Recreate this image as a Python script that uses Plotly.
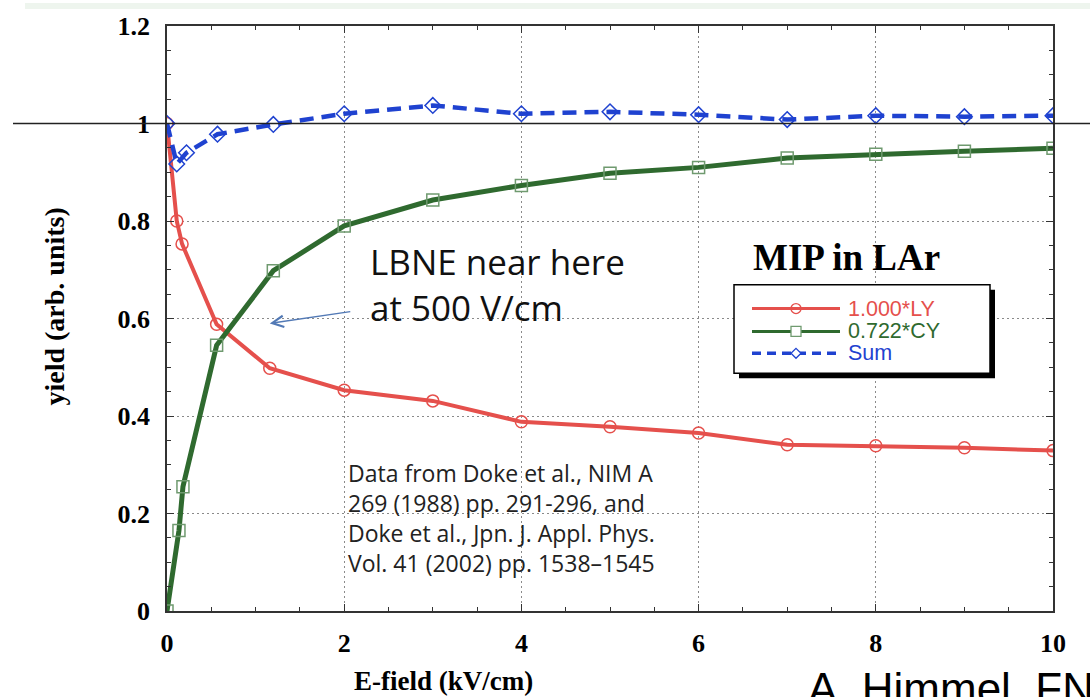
import plotly.graph_objects as go

# Electric field (kV/cm) and relative yields for a MIP in liquid argon
field_ly = [0, 0.11, 0.17, 0.56, 1.16, 2, 3, 4, 5, 6, 7, 8, 9, 10]
light_yield = [1.0, 0.80, 0.753, 0.588, 0.498, 0.453, 0.431, 0.388, 0.378, 0.365, 0.341, 0.339, 0.335, 0.329]

field_cy = [0, 0.135, 0.18, 0.56, 1.2, 2, 3, 4, 5, 6, 7, 8, 9, 10]
charge_yield = [0.0, 0.165, 0.255, 0.545, 0.698, 0.79, 0.843, 0.873, 0.898, 0.910, 0.929, 0.937, 0.943, 0.949]

field_sum = [0, 0.11, 0.22, 0.57, 1.2, 2, 3, 4, 5, 6, 7, 8, 9, 10]
yield_sum = [1.0, 0.917, 0.94, 0.978, 0.998, 1.02, 1.037, 1.02, 1.024, 1.018, 1.008, 1.016, 1.014, 1.016]

x_ticks = [0, 2, 4, 6, 8, 10]
y_ticks = [0, 0.2, 0.4, 0.6, 0.8, 1.0, 1.2]

series = [
    dict(name="1.000*LY", x=field_ly, y=light_yield, color="#e5504c", mcolor="#e5504c",
         width=4, dash="solid", symbol="circle-open"),
    dict(name="0.722*CY", x=field_cy, y=charge_yield, color="#2f6a2f", mcolor="#6f9a6f",
         width=5, dash="solid", symbol="square-open"),
    dict(name="Sum", x=field_sum, y=yield_sum, color="#1f42d0", mcolor="#1f42d0",
         width=4.5, dash="14px,8px", symbol="diamond-open"),
]

W, H = 1090, 697
L, R, T, B = 167, 37, 23, 86
PW, PH = W - L - R, H - T - B


def px(xp):
    return (xp - L) / PW


def py(yp):
    return (H - B - yp) / PH


fig = go.Figure()
for s in series:
    fig.add_trace(go.Scatter(
        x=s["x"], y=s["y"], name=s["name"], mode="lines+markers",
        line=dict(color=s["color"], width=s["width"], dash=s["dash"]),
        marker=dict(symbol=s["symbol"], size=12, color=s["mcolor"],
                    line=dict(width=1.5, color=s["mcolor"])),
        showlegend=False,
    ))

shapes = []
# thin strip along the top edge of the slide
shapes.append(dict(type="rect", xref="paper", yref="paper", x0=px(25), x1=px(W), y0=py(0), y1=py(6),
                   fillcolor="#eef5ee", line=dict(width=0), layer="below"))
# slide rule at unit yield
shapes.append(dict(type="line", xref="paper", yref="paper", x0=px(13), x1=px(W), y0=1.0 / 1.2, y1=1.0 / 1.2,
                   line=dict(color="#222222", width=1.3), layer="above"))

# legend box with drop shadow
bx0, by0, bx1, by1 = 734, 283, 990, 372
shapes.append(dict(type="rect", xref="paper", yref="paper", x0=px(bx0 + 5), x1=px(bx1 + 5),
                   y0=py(by0 + 5), y1=py(by1 + 5), fillcolor="black", line=dict(width=0), layer="above"))
shapes.append(dict(type="rect", xref="paper", yref="paper", x0=px(bx0), x1=px(bx1),
                   y0=py(by0), y1=py(by1), fillcolor="white", line=dict(color="black", width=1.5), layer="above"))

annotations = []
rows = [307, 330, 352]
lx0, lx1, lxm = 752, 840, 796
for s, ry in zip(series, rows):
    shapes.append(dict(type="line", xref="paper", yref="paper", x0=px(lx0), x1=px(lx1), y0=py(ry), y1=py(ry),
                       line=dict(color=s["color"], width=3 if s["dash"] == "solid" else 3.5,
                                 dash="solid" if s["dash"] == "solid" else "9px,6px"), layer="above"))
    r = 5
    if s["symbol"].startswith("circle"):
        shapes.append(dict(type="circle", xref="paper", yref="paper", x0=px(lxm - r), x1=px(lxm + r),
                           y0=py(ry - r), y1=py(ry + r), fillcolor="rgba(0,0,0,0)",
                           line=dict(color=s["mcolor"], width=1.3), layer="above"))
    elif s["symbol"].startswith("square"):
        shapes.append(dict(type="rect", xref="paper", yref="paper", x0=px(lxm - r), x1=px(lxm + r),
                           y0=py(ry - r), y1=py(ry + r), fillcolor="white",
                           line=dict(color=s["mcolor"], width=1.3), layer="above"))
    else:
        path = (f"M{px(lxm)},{py(ry - r)} L{px(lxm + r)},{py(ry)} L{px(lxm)},{py(ry + r)} "
                f"L{px(lxm - r)},{py(ry)} Z")
        shapes.append(dict(type="path", xref="paper", yref="paper", path=path, fillcolor="white",
                           line=dict(color=s["mcolor"], width=1.3), layer="above"))
    annotations.append(dict(xref="paper", yref="paper", x=px(846), y=py(ry), xanchor="left", yanchor="middle",
                            text=s["name"], showarrow=False,
                            font=dict(family="Liberation Sans, Arial", size=21.5, color=s["color"])))

serif = "Liberation Serif, Times New Roman, serif"
sans = "Open Sans, Lato, sans-serif"

annotations += [
    dict(xref="paper", yref="paper", x=px(846), y=py(256), xanchor="center", yanchor="middle",
         text="<b>MIP in LAr</b>", showarrow=False, font=dict(family=serif, size=37, color="black")),
    dict(xref="paper", yref="paper", x=px(368), y=py(234), xanchor="left", yanchor="top",
         text="LBNE near here<br>at 500 V/cm", showarrow=False, align="left",
         font=dict(family=sans, size=35, color="#111111")),
    dict(xref="paper", yref="paper", x=px(346), y=py(454), xanchor="left", yanchor="top",
         text=("Data from Doke et al., NIM A<br>269 (1988) pp. 291-296, and<br>"
               "Doke et al., Jpn. J. Appl. Phys.<br>Vol. 41 (2002) pp. 1538\u20131545"),
         showarrow=False, align="left", font=dict(family=sans, size=23, color="#222222")),
    dict(xref="x", yref="y", x=1.16, y=0.59, ax=82, ay=-12, text="", showarrow=True,
         arrowhead=5, arrowsize=1.6, arrowwidth=1.4, arrowcolor="#5279b5", standoff=0),
    dict(xref="paper", yref="paper", x=px(443), y=py(681), xanchor="center", yanchor="middle",
         text="<b>E-field (kV/cm)</b>", showarrow=False, font=dict(family=serif, size=27, color="black")),
    dict(xref="paper", yref="paper", x=px(55), y=py(305), xanchor="center", yanchor="middle",
         text="<b>yield (arb. units)</b>", textangle=-90, showarrow=False,
         font=dict(family=serif, size=28, color="black")),
    dict(xref="paper", yref="paper", x=px(806), y=py(662), xanchor="left", yanchor="top",
         text="A. Himmel, FNAL", showarrow=False, font=dict(family="Liberation Sans, Arial", size=44, color="black")),
]

axis_common = dict(
    showline=True, linecolor="#333333", linewidth=1.5, mirror="ticks",
    ticks="inside", ticklen=7, tickwidth=1.2, tickcolor="#333333",
    showgrid=True, gridcolor="#8a8a8a", gridwidth=1.3, griddash="2px,3px",
    zeroline=False,
    tickfont=dict(family=serif, size=26, color="black", weight="bold"),
)

fig.update_layout(
    width=W, height=H,
    margin=dict(l=L, r=R, t=T, b=B, pad=0),
    paper_bgcolor="white", plot_bgcolor="white",
    showlegend=False,
    xaxis=dict(range=[0, 10], tickvals=x_ticks, ticklabelstandoff=8,
               minor=dict(dtick=0.5, ticks="inside", ticklen=4, tickcolor="#333333", showgrid=False),
               **axis_common),
    yaxis=dict(range=[0, 1.2], tickvals=y_ticks, ticktext=["0", "0.2", "0.4", "0.6", "0.8", "1", "1.2"],
               ticklabelstandoff=10,
               minor=dict(dtick=0.05, ticks="inside", ticklen=4, tickcolor="#333333", showgrid=False),
               **axis_common),
    shapes=shapes,
    annotations=annotations,
)

fig.write_html("out.html")
